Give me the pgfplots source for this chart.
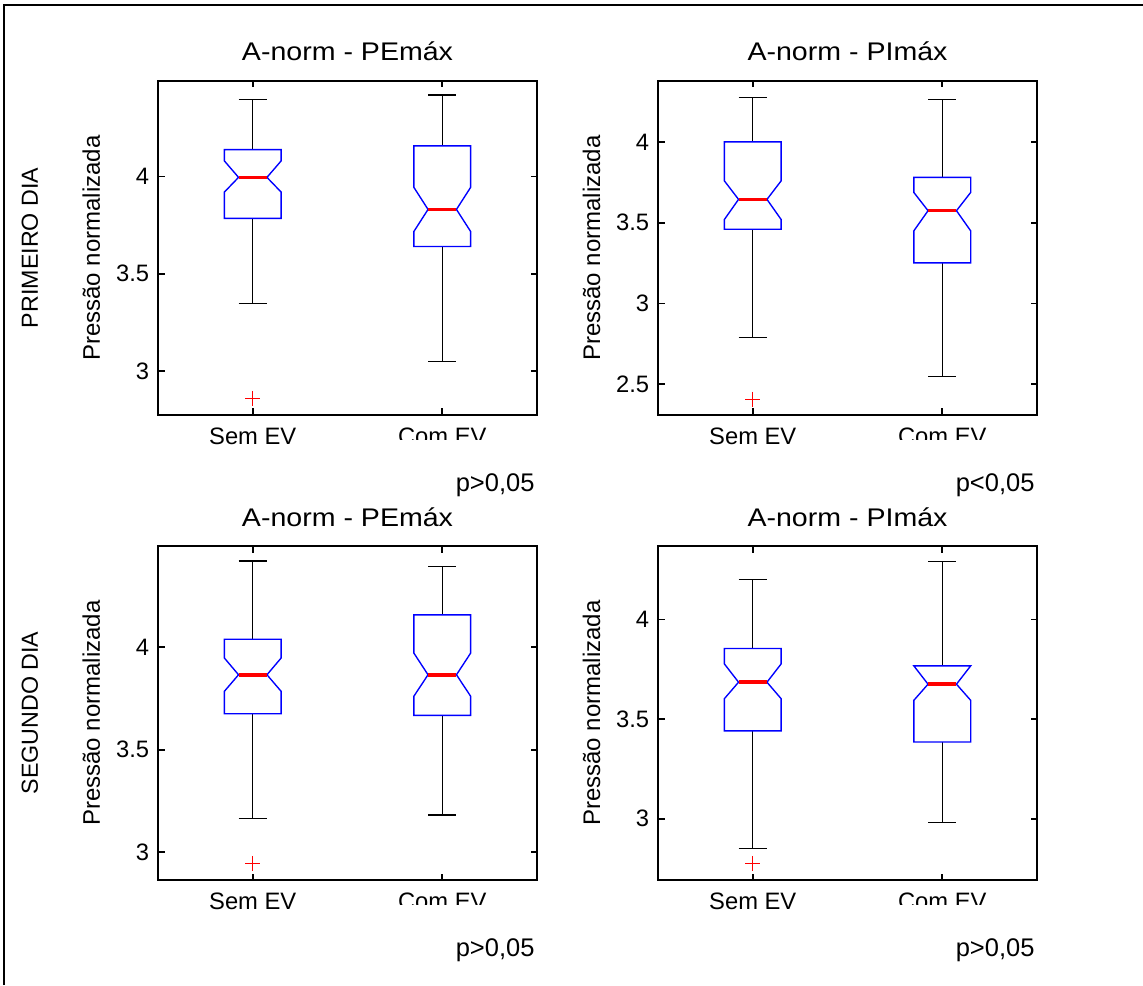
\documentclass[border=0pt]{standalone}
\usepackage{fontspec}
\setmainfont{Liberation Sans}
\newfontfamily\titlefont[FakeStretch=1.12]{Liberation Sans}
\usepackage{pgfplots}
\pgfplotsset{compat=1.18}
\definecolor{mblue}{RGB}{0,0,255}
\definecolor{mred}{RGB}{255,0,0}
\pgfplotsset{
  every axis title/.style={font=\titlefont\fontsize{10.2}{11}\selectfont, at={(0.5,1)}, anchor=base, yshift=8pt},
  mbox/.style={
    scale only axis, width=151.6pt, height=133.6pt,
    anchor=south west,
    xmin=0.5, xmax=2.5,
    xtick={1,2}, xticklabels={Sem EV, Com EV},
    tick align=inside, xtick pos=both, ytick pos=both,
    major tick length=2.6pt,
    axis line style={line width=0.8pt},
    every tick/.style={black, line width=0.7pt},
    unbounded coords=jump,
    clip=false,
    /pgf/number format/assume math mode=true,
    ticklabel style={font=\fontsize{9.5}{10}\selectfont},
    xticklabel style={anchor=base, yshift=-11.6pt},
    ylabel={Pressão normalizada},
    ylabel style={font=\fontsize{9.6}{11}\selectfont, at={([xshift=-23.2pt]axis description cs:0,0.5)}, anchor=base},
  },
  wh/.style={black, line width=0.45pt, mark=none},
  bx/.style={mblue, line width=0.55pt, mark=none},
  md/.style={mred, line width=1.4pt, mark=none},
  ol/.style={mred, only marks, mark=+, mark size=3pt, mark options={line width=0.5pt}},
}
\newcommand{\pval}[3]{% x (pt, right), y (pt, axis bottom), text
  \fill[white] (#1-95pt,#2-10pt) rectangle (#1+1pt,#2-20pt);
  \node[font=\fontsize{10.2}{12}\selectfont, anchor=base east, inner sep=0pt] at (#1-0.8pt,#2-30.4pt) {#3};
}
\begin{document}
\begin{tikzpicture}
\useasboundingbox (0,0) rectangle (457.2pt,394pt);
\draw[line width=0.8pt] (1.6pt,0) -- (1.6pt,392pt) -- (457.2pt,392pt);

% ---------- top left ----------
\begin{axis}[mbox, at={(63.2pt,228pt)}, ymin=2.773, ymax=4.492, ytick={3,3.5,4}, title={A-norm - PEmáx}]
\addplot[wh] coordinates {(1,4.139) (1,4.399) (nan,nan) (0.925,4.399) (1.075,4.399) (nan,nan) (1,3.785) (1,3.349) (nan,nan) (0.925,3.349) (1.075,3.349)};
\addplot[bx] coordinates {(0.85,3.785) (0.85,3.920) (0.925,3.996) (0.85,4.081) (0.85,4.139) (1.15,4.139) (1.15,4.081) (1.075,3.996) (1.15,3.920) (1.15,3.785)} -- cycle;
\addplot[md] coordinates {(0.925,3.996) (1.075,3.996)};
\addplot[ol] coordinates {(1,2.859)};
\addplot[wh] coordinates {(2,4.158) (2,4.420) (nan,nan) (1.925,4.420) (2.075,4.420) (nan,nan) (2,3.640) (2,3.050) (nan,nan) (1.925,3.050) (2.075,3.050)};
\addplot[bx] coordinates {(1.85,3.640) (1.85,3.717) (1.925,3.831) (1.85,3.945) (1.85,4.158) (2.15,4.158) (2.15,3.945) (2.075,3.831) (2.15,3.717) (2.15,3.640)} -- cycle;
\addplot[md] coordinates {(1.925,3.831) (2.075,3.831)};
\node[rotate=90, anchor=base, font=\fontsize{9.3}{11}\selectfont] at ([xshift=-48pt]axis description cs:0,0.5) {PRIMEIRO DIA};
\end{axis}
\pval{214.8pt}{228pt}{p>0,05}

% ---------- top right ----------
\begin{axis}[mbox, at={(263.2pt,228pt)}, ymin=2.309, ymax=4.377, ytick={2.5,3,3.5,4}, title={A-norm - PImáx}]
\addplot[wh] coordinates {(1,4.000) (1,4.273) (nan,nan) (0.925,4.273) (1.075,4.273) (nan,nan) (1,3.459) (1,2.790) (nan,nan) (0.925,2.790) (1.075,2.790)};
\addplot[bx] coordinates {(0.85,3.459) (0.85,3.519) (0.925,3.644) (0.85,3.759) (0.85,4.000) (1.15,4.000) (1.15,3.759) (1.075,3.644) (1.15,3.519) (1.15,3.459)} -- cycle;
\addplot[md] coordinates {(0.925,3.644) (1.075,3.644)};
\addplot[ol] coordinates {(1,2.407)};
\addplot[wh] coordinates {(2,3.780) (2,4.261) (nan,nan) (1.925,4.261) (2.075,4.261) (nan,nan) (2,3.251) (2,2.549) (nan,nan) (1.925,2.549) (2.075,2.549)};
\addplot[bx] coordinates {(1.85,3.251) (1.85,3.449) (1.925,3.574) (1.85,3.687) (1.85,3.780) (2.15,3.780) (2.15,3.687) (2.075,3.574) (2.15,3.449) (2.15,3.251)} -- cycle;
\addplot[md] coordinates {(1.925,3.574) (2.075,3.574)};
\end{axis}
\pval{414.8pt}{228pt}{p<0,05}

% ---------- bottom left ----------
\begin{axis}[mbox, at={(63.2pt,42pt)}, ymin=2.865, ymax=4.494, ytick={3,3.5,4}, title={A-norm - PEmáx}]
\addplot[wh] coordinates {(1,4.039) (1,4.421) (nan,nan) (0.925,4.421) (1.075,4.421) (nan,nan) (1,3.676) (1,3.166) (nan,nan) (0.925,3.166) (1.075,3.166)};
\addplot[bx] coordinates {(0.85,3.676) (0.85,3.785) (0.925,3.866) (0.85,3.948) (0.85,4.039) (1.15,4.039) (1.15,3.948) (1.075,3.866) (1.15,3.785) (1.15,3.676)} -- cycle;
\addplot[md] coordinates {(0.925,3.866) (1.075,3.866)};
\addplot[ol] coordinates {(1,2.946)};
\addplot[wh] coordinates {(2,4.158) (2,4.395) (nan,nan) (1.925,4.395) (2.075,4.395) (nan,nan) (2,3.668) (2,3.182) (nan,nan) (1.925,3.182) (2.075,3.182)};
\addplot[bx] coordinates {(1.85,3.668) (1.85,3.761) (1.925,3.866) (1.85,3.972) (1.85,4.158) (2.15,4.158) (2.15,3.972) (2.075,3.866) (2.15,3.761) (2.15,3.668)} -- cycle;
\addplot[md] coordinates {(1.925,3.866) (2.075,3.866)};
\node[rotate=90, anchor=base, font=\fontsize{9.3}{11}\selectfont] at ([xshift=-48pt]axis description cs:0,0.5) {SEGUNDO DIA};
\end{axis}
\pval{214.8pt}{42pt}{p>0,05}

% ---------- bottom right ----------
\begin{axis}[mbox, at={(263.2pt,42pt)}, ymin=2.693, ymax=4.368, ytick={3,3.5,4}, title={A-norm - PImáx}]
\addplot[wh] coordinates {(1,3.854) (1,4.199) (nan,nan) (0.925,4.199) (1.075,4.199) (nan,nan) (1,3.441) (1,2.853) (nan,nan) (0.925,2.853) (1.075,2.853)};
\addplot[bx] coordinates {(0.85,3.441) (0.85,3.602) (0.925,3.685) (0.85,3.777) (0.85,3.854) (1.15,3.854) (1.15,3.777) (1.075,3.685) (1.15,3.602) (1.15,3.441)} -- cycle;
\addplot[md] coordinates {(0.925,3.685) (1.075,3.685)};
\addplot[ol] coordinates {(1,2.776)};
\addplot[wh] coordinates {(2,3.767) (2,4.291) (nan,nan) (1.925,4.291) (2.075,4.291) (nan,nan) (2,3.385) (2,2.982) (nan,nan) (1.925,2.982) (2.075,2.982)};
\addplot[bx] coordinates {(1.85,3.385) (1.85,3.594) (1.925,3.675) (1.85,3.767) (2.15,3.767) (2.075,3.675) (2.15,3.594) (2.15,3.385)} -- cycle;
\addplot[md] coordinates {(1.925,3.675) (2.075,3.675)};
\end{axis}
\pval{414.8pt}{42pt}{p>0,05}
\end{tikzpicture}
\end{document}
